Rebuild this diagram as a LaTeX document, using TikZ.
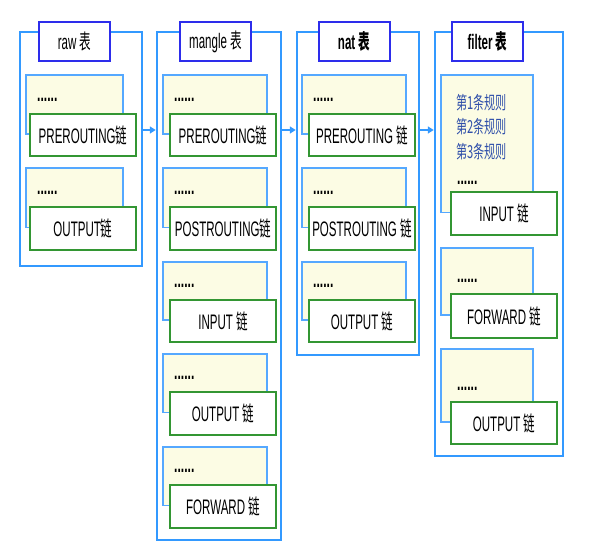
\documentclass[tikz,border=0pt]{standalone}
\usepackage{fontspec}
\setmainfont{Liberation Sans}[FakeStretch=0.55]
\newfontfamily\cjk{Noto Sans CJK SC}[FakeStretch=0.55]
\newfontfamily\rulecjk{Noto Sans CJK SC}[FakeStretch=0.62]
\usetikzlibrary{arrows.meta,fit}
\definecolor{outerblue}{RGB}{51,153,255}
\definecolor{titleblue}{RGB}{45,45,235}
\definecolor{innerblue}{RGB}{85,168,255}
\definecolor{ruleyellow}{RGB}{252,252,228}
\definecolor{chaingreen}{RGB}{51,150,51}
\definecolor{ruleblue}{RGB}{48,80,170}
\tikzset{
  outerbox/.style={draw=outerblue, line width=2.5pt, inner sep=0pt},
  titlebox/.style={draw=titleblue, fill=white, line width=2pt, inner sep=0pt,
    minimum width=71pt, minimum height=39pt, font=\fontsize{21}{23}\selectfont},
  chainbox/.style={draw=chaingreen, fill=white, line width=2pt, inner sep=0pt,
    anchor=north west, font=\fontsize{21}{23}\selectfont},
  ruleframe/.style={draw=innerblue, line width=1.5pt},
  rulefill/.style={fill=ruleyellow},
  dotstext/.style={inner sep=0pt, anchor=west, font=\fontsize{22}{24}\selectfont\bfseries},
  ruletext/.style={inner sep=0pt, anchor=west, text=ruleblue, font=\fontsize{18}{20}\selectfont\rulecjk},
  flow/.style={draw=outerblue, line width=2pt, -{Triangle[length=6pt,width=7pt]}}
}
\def\dotx{11}
\def\dotoff{13}
\newcommand\ipunit[9]{%
  \fill[rulefill] (#2,#4) rectangle (#3,{(#7+#8)/2});
  \draw[ruleframe] (#5,{(#7+#8)/2}) -- (#2,{(#7+#8)/2}) -- (#2,#4) -- (#3,#4) -- (#3,#7);
  \node[dotstext] (#1d) at ({#2+\dotx},{#7-\dotoff}) {......};
  \node[chainbox, minimum width={(#6-#5)*1pt}, minimum height={(#8-#7)*1pt}] (#1) at (#5,#7) {#9};
}
\begin{document}
\begin{tikzpicture}[x=1pt,y=-1pt]
\useasboundingbox (0,0) rectangle (590,559);
\fill[white] (0,0) rectangle (590,559);

% outer table frames
\node[outerbox, fit={(20,32) (142,266)}] (raw) {};
\node[outerbox, fit={(157,32) (281,540)}] (mangle) {};
\node[outerbox, fit={(297,32) (419,355)}] (nat) {};
\node[outerbox, fit={(435,32) (563,456)}] (filter) {};

% titles
\node[titlebox] (rawt) at (74.5,41.5) {raw {\cjk 表}};
\node[titlebox] (manglet) at (215.5,41.5) {mangle {\cjk 表}};
\node[titlebox] (natt) at (354,41.5) {\bfseries nat {\cjk 表}};
\node[titlebox] (filtert) at (487.5,41.5) {\bfseries filter {\cjk 表}};

% raw
\ipunit{r1}{26}{123}{75}{29}{135}{113}{155}{PREROUTING{\cjk 链}}
\ipunit{r2}{26}{123}{168}{29}{135}{206}{249}{OUTPUT{\cjk 链}}

% mangle
\ipunit{m1}{163}{267}{75}{169}{275}{113}{155}{PREROUTING{\cjk 链}}
\ipunit{m2}{163}{267}{168}{169}{275}{206}{249}{POSTROUTING{\cjk 链}}
\ipunit{m3}{163}{267}{262}{169}{275}{299}{341}{INPUT {\cjk 链}}
\ipunit{m4}{163}{267}{354}{169}{275}{391}{434}{OUTPUT {\cjk 链}}
\ipunit{m5}{163}{267}{447}{169}{275}{484}{527}{FORWARD {\cjk 链}}

% nat
\ipunit{n1}{302}{406}{75}{308}{414}{113}{155}{PREROUTING {\cjk 链}}
\ipunit{n2}{302}{406}{168}{308}{414}{206}{249}{POSTROUTING {\cjk 链}}
\ipunit{n3}{302}{406}{262}{308}{414}{299}{341}{OUTPUT {\cjk 链}}

% filter
\def\dotx{16}
\def\dotoff{8}
\ipunit{f1}{441}{533}{75}{450}{556}{191}{234}{INPUT {\cjk 链}}
\def\dotoff{12}
\ipunit{f2}{441}{533}{248}{450}{556}{293}{337}{FORWARD {\cjk 链}}
\ipunit{f3}{441}{533}{349}{450}{556}{401}{443}{OUTPUT {\cjk 链}}

\node[ruletext] (rule1) at (456,103) {第1条规则};
\node[ruletext] (rule2) at (456,127) {第2条规则};
\node[ruletext] (rule3) at (456,152) {第3条规则};

% flow arrows
\coordinate (lvl) at (0,130);
\draw[flow] (raw.east |- lvl) -- (mangle.west |- lvl);
\draw[flow] (mangle.east |- lvl) -- (nat.west |- lvl);
\draw[flow] (nat.east |- lvl) -- (filter.west |- lvl);
\end{tikzpicture}
\end{document}
